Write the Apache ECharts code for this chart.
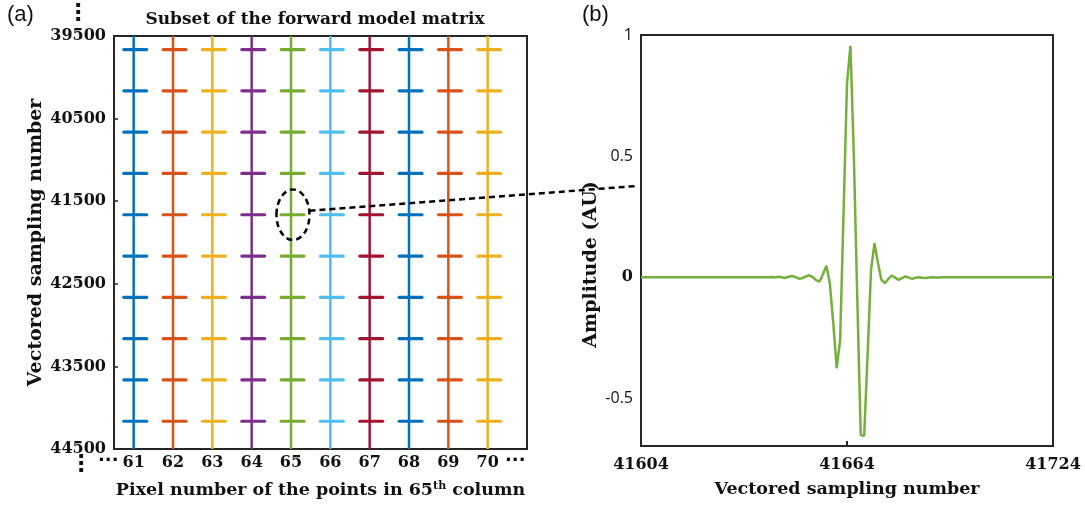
<!DOCTYPE html>
<html>
<head>
<meta charset="utf-8">
<script src="https://cdn.jsdelivr.net/npm/echarts@6/dist/echarts.min.js"></script>
<style>html,body{margin:0;padding:0;background:#fff;}#c{width:1085px;height:506px;}</style>
</head>
<body>
<div id="c"></div>
<script>
// ---------------- data ----------------
const columns = [61, 62, 63, 64, 65, 66, 67, 68, 69, 70];
const columnColors = ['#0072BD', '#D95319', '#EDB120', '#7E2F8E', '#77AC30', '#4DBEEE', '#A2142F', '#0072BD', '#D95319', '#EDB120'];
const crossRows = [39664, 40164, 40664, 41164, 41664, 42164, 42664, 43164, 43664, 44164];
const leftYTicks = [39500, 40500, 41500, 42500, 43500, 44500];
const leftYRange = [39500, 44500];
const leftXRange = [60.5, 71];

const waveStart = 41604;
const waveValues = [
  0,0,0,0,0,0,0,0,0,0,
  0,0,0,0,0,0,0,0,0,0,
  0,0,0,0,0,0,0,0,0,0,
  0,0,0,0,0,0,0,0,0.001,-0.001,
  0.002,0,-0.003,0.002,0.005,0,-0.006,-0.004,0.003,0.008,
  0,-0.012,-0.018,0.012,0.047,-0.025,-0.19,-0.376,-0.26,0.27,
  0.80,0.955,0.50,-0.09,-0.652,-0.655,-0.32,0.03,0.14,0.06,
  -0.01,-0.025,-0.008,0.007,-0.002,-0.011,-0.004,0.003,-0.002,-0.007,
  -0.002,0,-0.002,-0.003,-0.001,0,-0.001,-0.001,0,0,
  0,0,0,0,0,0,0,0,0,0,
  0,0,0,0,0,0,0,0,0,0,
  0,0,0,0,0,0,0,0,0,0,
  0
];
const rightXTicks = [41604, 41664, 41724];
const rightXTickMarks = [41664];
const rightYTicks = [-0.5, 0, 0.5, 1];
const rightXRange = [41604, 41724];
const rightYRange = [-0.697, 1];

// annotation (data coords)
const ellipseCenter = [65.05, 41664];
const ellipseRadius = [0.42, 306];
const connectorEnd = [41604, 0.377];

// ---------------- chart ----------------
const serif = 'DejaVu Serif';
const chart = echarts.init(document.getElementById('c'), null, {renderer: 'canvas'});
const wavePoints = waveValues.map((v, i) => [waveStart + i, v]);
const crossData = [];
columns.forEach((c, ci) => crossRows.forEach(r => crossData.push([c, r, ci])));

const labelStyle = {fontFamily: serif, fontWeight: 'bold', fontSize: 16, color: '#111', formatter: v => String(v)};

chart.setOption({
  animation: false,
  backgroundColor: '#fff',
  title: {
    text: 'Subset of the forward model matrix',
    left: 310, top: 6, textAlign: 'center',
    textStyle: {fontFamily: serif, fontWeight: 'bold', fontSize: 17, color: '#111'}
  },
  grid: [
    {left: 114, top: 36, width: 413, height: 413, show: true, borderColor: '#262626', borderWidth: 2, backgroundColor: 'transparent'},
    {left: 641, top: 35, width: 412, height: 411, show: true, borderColor: '#262626', borderWidth: 2, backgroundColor: 'transparent'}
  ],
  xAxis: [
    {
      type: 'value', gridIndex: 0, min: leftXRange[0], max: leftXRange[1],
      axisLine: {show: false, onZero: false}, splitLine: {show: false}, axisTick: {show: false},
      axisLabel: Object.assign({customValues: columns, margin: 6}, labelStyle),
      name: 'Pixel number of the points in 65{sup|th} column',
      nameLocation: 'middle', nameGap: 32,
      nameTextStyle: {fontFamily: serif, fontWeight: 'bold', fontSize: 17.5, color: '#111',
        rich: {sup: {fontFamily: serif, fontWeight: 'bold', fontSize: 11, verticalAlign: 'top', padding: [0, 0, 8, 0], color: '#111'}}}
    },
    {
      type: 'value', gridIndex: 1, min: rightXRange[0], max: rightXRange[1],
      axisLine: {show: false, onZero: false}, splitLine: {show: false},
      axisTick: {show: true, inside: true, length: 5, customValues: rightXTickMarks, lineStyle: {color: '#262626', width: 2}},
      axisLabel: Object.assign({customValues: rightXTicks, margin: 11}, labelStyle),
      name: 'Vectored sampling number', nameLocation: 'middle', nameGap: 34,
      nameTextStyle: {fontFamily: serif, fontWeight: 'bold', fontSize: 17.5, color: '#111'}
    }
  ],
  yAxis: [
    {
      type: 'value', gridIndex: 0, inverse: true, min: leftYRange[0], max: leftYRange[1],
      axisLine: {show: false, onZero: false}, splitLine: {show: false},
      axisTick: {show: true, inside: true, length: 4, customValues: leftYTicks, lineStyle: {color: '#262626', width: 1.5}},
      axisLabel: Object.assign({customValues: leftYTicks, margin: 8}, labelStyle),
      name: 'Vectored sampling number', nameLocation: 'middle', nameGap: 68, nameRotate: 90,
      nameTextStyle: {fontFamily: serif, fontWeight: 'bold', fontSize: 19, color: '#111'}
    },
    {
      type: 'value', gridIndex: 1, min: rightYRange[0], max: rightYRange[1],
      axisLine: {show: false, onZero: false}, splitLine: {show: false}, axisTick: {show: false},
      axisLabel: {
        customValues: rightYTicks, margin: 8,
        formatter: v => v === 0 ? '{b|0}' : '{s|' + v + '}',
        rich: {
          b: {fontFamily: serif, fontWeight: 'bold', fontSize: 16, color: '#111'},
          s: {fontFamily: 'Open Sans', fontSize: 16, color: '#111'}
        }
      },
      name: 'Amplitude (AU)', nameLocation: 'middle', nameGap: 40, nameRotate: 90,
      nameTextStyle: {fontFamily: serif, fontWeight: 'bold', fontSize: 19, color: '#111', padding: [0, 0, 0, -48]}
    }
  ],
  series: [
    {
      type: 'custom', xAxisIndex: 0, yAxisIndex: 0, clip: true,
      data: columns.map((c, i) => [c, leftYRange[0], i]),
      encode: {x: 0, y: 1},
      renderItem: (params, api) => {
        const x = api.value(0);
        const p1 = api.coord([x, leftYRange[0]]);
        const p2 = api.coord([x, leftYRange[1]]);
        return {type: 'line', shape: {x1: p1[0], y1: p1[1], x2: p2[0], y2: p2[1]},
          style: {stroke: columnColors[api.value(2)], lineWidth: 2.5}};
      }
    },
    {
      type: 'custom', xAxisIndex: 0, yAxisIndex: 0, clip: true,
      data: crossData, encode: {x: 0, y: 1},
      renderItem: (params, api) => {
        const x = api.value(0), y = api.value(1);
        const p1 = api.coord([x - 0.25, y]);
        const p2 = api.coord([x + 0.33, y]);
        return {type: 'line', shape: {x1: p1[0], y1: p1[1], x2: p2[0], y2: p2[1]},
          style: {stroke: columnColors[api.value(2)], lineWidth: 3.2, lineCap: 'round'}};
      }
    },
    {
      type: 'line', xAxisIndex: 1, yAxisIndex: 1, data: wavePoints,
      showSymbol: false, symbol: 'none',
      lineStyle: {color: '#74B03B', width: 2.5}
    }
  ]
});

function addGraphics() {
  const c0 = chart.convertToPixel({gridIndex: 0}, ellipseCenter);
  const e1 = chart.convertToPixel({gridIndex: 0}, [ellipseCenter[0] + ellipseRadius[0], ellipseCenter[1] + ellipseRadius[1]]);
  const rx = Math.abs(e1[0] - c0[0]), ry = Math.abs(e1[1] - c0[1]);
  const end = chart.convertToPixel({gridIndex: 1}, connectorEnd);
  const g0 = chart.getModel().getComponent('grid', 0).coordinateSystem.getRect();
  const dotStyle = {fontFamily: 'DejaVu Sans', fontWeight: 'bold', fontSize: 22, fill: '#111'};
  chart.setOption({
    graphic: [
      {type: 'text', left: 7, top: 4, style: {text: '(a)', fontFamily: 'Liberation Sans', fontSize: 22, fill: '#111'}},
      {type: 'text', left: 582, top: 4, style: {text: '(b)', fontFamily: 'Liberation Sans', fontSize: 22, fill: '#111'}},
      {type: 'ellipse', shape: {cx: c0[0], cy: c0[1], rx: rx, ry: ry},
        style: {fill: 'none', stroke: '#000', lineWidth: 2.5, lineDash: [6, 4]}, z: 100},
      {type: 'line', shape: {x1: c0[0] + rx, y1: c0[1] - 4, x2: end[0] - 3, y2: end[1]},
        style: {stroke: '#000', lineWidth: 2.5, lineDash: [6, 4]}, z: 100},
      {type: 'text', x: g0.x - 40, y: g0.y - 33, style: {text: '·\n·\n·', lineHeight: 7, ...dotStyle}},
      {type: 'text', x: g0.x - 37, y: g0.y + g0.height + 5, style: {text: '·\n·\n·', lineHeight: 7, ...dotStyle}},
      {type: 'text', x: g0.x - 16, y: g0.y + g0.height + 3, style: {text: '···', ...dotStyle, fontSize: 18}},
      {type: 'text', x: g0.x + g0.width - 22, y: g0.y + g0.height + 3, style: {text: '···', ...dotStyle, fontSize: 18}}
    ]
  });
}
addGraphics();
</script>
</body>
</html>
